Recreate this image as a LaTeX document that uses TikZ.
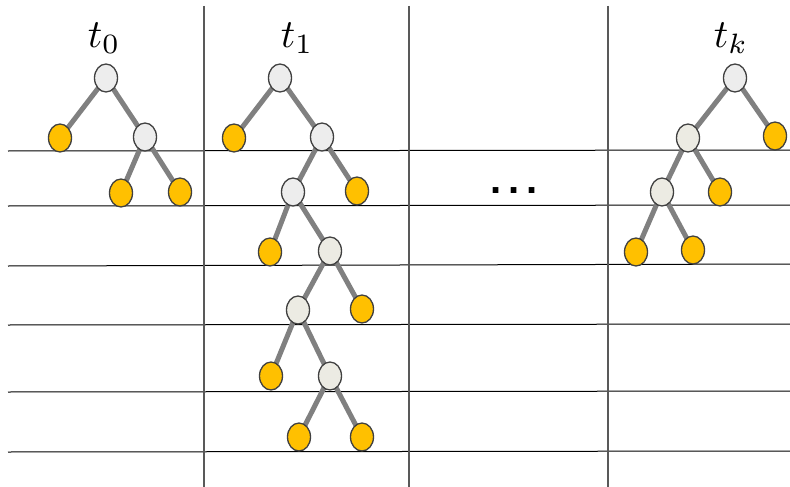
\documentclass[tikz,border=0pt]{standalone}
\usepackage{fontspec}
\newfontfamily\dotfont{Liberation Sans}
\usetikzlibrary{shapes.geometric}
\begin{document}
\begin{tikzpicture}[x=1pt,y=-1pt,
  vnode/.style={ellipse,draw=black!75,line width=1.3pt,minimum width=23pt,minimum height=28pt,inner sep=0pt},
  inode/.style={vnode,fill=black!7},
  inode2/.style={vnode,fill={rgb,255:red,236;green,235;blue,227}},
  leaf/.style={vnode,fill={rgb,255:red,255;green,192;blue,0}},
  edge/.style={draw=black!50,line width=5pt},
  hline/.style={draw=black,line width=1pt},
  vline/.style={draw=black!65,line width=1.3pt},
  lbl/.style={inner sep=0pt}]
\useasboundingbox (0,0) rectangle (790,487);
% grid lines
\coordinate (h1a) at (8,151); \coordinate (h1b) at (790,150);
\coordinate (h2a) at (8,206); \coordinate (h2b) at (790,205);
\coordinate (h3a) at (8,266); \coordinate (h3b) at (790,264);
\coordinate (h4a) at (8,325); \coordinate (h4b) at (790,324);
\coordinate (h5a) at (8,392); \coordinate (h5b) at (790,391);
\coordinate (h6a) at (8,452); \coordinate (h6b) at (790,451);
\foreach \i in {1,...,6} {\draw[hline] (h\i a) -- (h\i b);}
\coordinate (v1a) at (204,6); \coordinate (v1b) at (204,487);
\coordinate (v2a) at (409,6); \coordinate (v2b) at (409,487);
\coordinate (v3a) at (608,6); \coordinate (v3b) at (608,487);
\foreach \i in {1,2,3} {\draw[vline] (v\i a) -- (v\i b);}
% labels
\node[lbl] (l0) at (104,38) {\scalebox{4}{$t_0$}};
\node[lbl] (l1) at (297,38) {\scalebox{4}{$t_1$}};
\node[lbl] (lk) at (731,38) {\scalebox{4}{$t_k$}};
\node[font=\dotfont\bfseries\fontsize{40}{40}\selectfont,anchor=base,inner sep=0pt] (dots) at (514,193) {.\hspace{7pt}.\hspace{7pt}.};
% tree t0
\coordinate (a0) at (106,78);
\coordinate (a1) at (60,138);
\coordinate (a2) at (145,137);
\coordinate (a3) at (121,193);
\coordinate (a4) at (180,192);
\draw[edge] (a1) -- (a0) -- (a2) -- (a3) (a2) -- (a4);
\node[inode] (na0) at (a0) {};
\node[leaf] (na1) at (a1) {};
\node[inode] (na2) at (a2) {};
\node[leaf] (na3) at (a3) {};
\node[leaf] (na4) at (a4) {};
% tree t1
\coordinate (b0) at (280,78);
\coordinate (b1) at (234,138);
\coordinate (b2) at (322,137);
\coordinate (b3) at (293,192);
\coordinate (b4) at (357,191);
\coordinate (b5) at (270,252);
\coordinate (b6) at (330,251);
\coordinate (b7) at (298,310);
\coordinate (b8) at (362,309);
\coordinate (b9) at (271,376);
\coordinate (b10) at (330,376);
\coordinate (b11) at (299,437);
\coordinate (b12) at (362,437);
\draw[edge] (b1) -- (b0) -- (b2) -- (b3) (b2) -- (b4)
  (b5) -- (b3) -- (b6) -- (b7) (b6) -- (b8)
  (b9) -- (b7) -- (b10) -- (b11) (b10) -- (b12);
\node[inode] (nb0) at (b0) {};
\node[leaf] (nb1) at (b1) {};
\node[inode] (nb2) at (b2) {};
\node[inode] (nb3) at (b3) {};
\node[leaf] (nb4) at (b4) {};
\node[leaf] (nb5) at (b5) {};
\node[inode2] (nb6) at (b6) {};
\node[inode2] (nb7) at (b7) {};
\node[leaf] (nb8) at (b8) {};
\node[leaf] (nb9) at (b9) {};
\node[inode2] (nb10) at (b10) {};
\node[leaf] (nb11) at (b11) {};
\node[leaf] (nb12) at (b12) {};
% tree tk
\coordinate (c0) at (735,78);
\coordinate (c1) at (688,138);
\coordinate (c2) at (775,136);
\coordinate (c3) at (662,192);
\coordinate (c4) at (720,192);
\coordinate (c5) at (636,252);
\coordinate (c6) at (693,250);
\draw[edge] (c1) -- (c0) -- (c2) (c3) -- (c1) -- (c4)
  (c5) -- (c3) -- (c6);
\node[inode] (nc0) at (c0) {};
\node[inode2] (nc1) at (c1) {};
\node[leaf] (nc2) at (c2) {};
\node[inode2] (nc3) at (c3) {};
\node[leaf] (nc4) at (c4) {};
\node[leaf] (nc5) at (c5) {};
\node[leaf] (nc6) at (c6) {};
\end{tikzpicture}
\end{document}
